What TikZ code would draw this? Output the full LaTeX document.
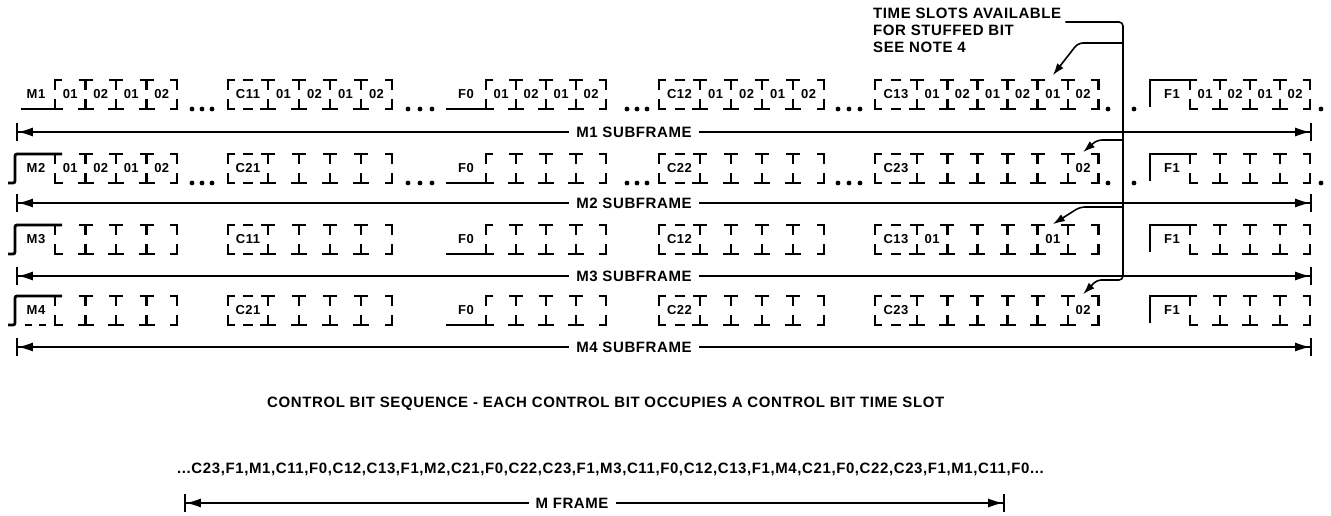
\documentclass[tikz,border=0pt]{standalone}
\usepackage{fontspec}
\setmainfont{Liberation Sans}
\newfontfamily\annfont[LetterSpace=4]{Liberation Sans}
\usetikzlibrary{arrows.meta}
\tikzset{
  sl/.style={line width=2.8pt},
  ann/.style={font=\annfont\fontsize{15}{17}\selectfont\bfseries, inner sep=0pt},
  lbl/.style={font=\annfont\fontsize{13}{15}\selectfont\bfseries, inner sep=0pt},
  span/.style={line width=1.5pt, {Bar[width=18pt,line width=1.8pt]Latex[length=15pt,width=9pt]}-{Latex[length=15pt,width=9pt]Bar[width=18pt,line width=1.8pt]}},
  dotn/.style={circle, fill=black, inner sep=0pt, minimum size=4.8pt},
  ptr/.style={line width=1.6pt, -{Latex[length=12pt,width=8pt]}},
  sublbl/.style={ann, fill=white, inner xsep=7pt, inner ysep=3pt},
}
% slot boundary (T on top, inverted T at bottom)
\newcommand\Tb[1]{\draw[sl] (#1-7,\rowT) -- (#1+7,\rowT) (#1,\rowT) -- (#1,\rowT+10) (#1-8,\rowB) -- (#1+8,\rowB) (#1,\rowB) -- (#1,\rowB-10);}
\newcommand\Lb[1]{\draw[sl] (#1+7,\rowT) -- (#1,\rowT) -- (#1,\rowT+10) (#1+7,\rowB) -- (#1,\rowB) -- (#1,\rowB-10);}
\newcommand\Rb[1]{\draw[sl] (#1-7,\rowT) -- (#1,\rowT) -- (#1,\rowT+10) (#1-7,\rowB) -- (#1,\rowB) -- (#1,\rowB-10);}
\newcommand\Cd[2]{\draw[sl] ({(#1+#2)/2-5},\rowT) -- ({(#1+#2)/2+5},\rowT) ({(#1+#2)/2-5},\rowB) -- ({(#1+#2)/2+5},\rowB);}
\newcommand\Cgroup[5]{\Lb{#1}\Cd{#1}{#2}\foreach \k in {0,...,#4}{\Tb{#2+\k*#3}}\Rb{#5}}
% low pulse: underline then first slot boundary
\newcommand\Low[2]{\draw[sl] (#1,\rowB) -- (#2+8,\rowB) (#2,\rowB) -- (#2,\rowB-10) (#2+7,\rowT) -- (#2,\rowT) -- (#2,\rowT+10);}
% high pulse (M) with rising edge
\newcommand\HighM[1]{\draw[sl, rounded corners=2pt] (8,\rowB) -- (15,\rowB) -- (15,\rowT) -- (#1+7,\rowT);
  \draw[sl] (#1,\rowT) -- (#1,\rowT+10) (#1+8,\rowB) -- (#1,\rowB) -- (#1,\rowB-10);}
% high pulse (F1)
\newcommand\HighF[2]{\draw[sl] (#1,\rowB-2) -- (#1,\rowT) -- (#2+7,\rowT) (#2,\rowT) -- (#2,\rowT+10) (#2+8,\rowB) -- (#2,\rowB) -- (#2,\rowB-10);}
\newcommand\Skel{%
  \foreach \k in {1,2,3}{\Tb{55+\k*30.5}}
  \Rb{177}
  \Cgroup{228}{268}{31}{3}{392}
  \Low{446}{486}
  \foreach \k in {1,2,3}{\Tb{486+\k*30}}
  \Rb{606}
  \Cgroup{659}{700}{31}{3}{824}
  \Cgroup{875}{917}{30.2}{5}{1098.2}
  \HighF{1150}{1190}
  \foreach \k in {1,2,3}{\Tb{1190+\k*30}}
  \Rb{1310}}
\newcommand\Labs[4]{\foreach \t [count=\i] in {#4}{\node[lbl] (#1\i) at ({#2+(\i-0.5)*#3},\rowT+14) {\t};}}
\newcommand\Dots[2]{\foreach \x [count=\i] in {#2}{\node[dotn] (#1\i) at (\x,\rowB) {};}}
\newcommand\CtlLabels[6]{%
  \node[lbl] (#1m) at (36,\rowT+14) {#2};
  \node[lbl] (#1c) at (248,\rowT+14) {#3};
  \node[lbl] (#1f) at (466,\rowT+14) {F0};
  \node[lbl] (#1d) at (679.5,\rowT+14) {#4};
  \node[lbl] (#1ec) at (896,\rowT+14) {#5};
  \node[lbl] (#1k) at (1172,\rowT+14) {#6};}
\newcommand\AllDots[1]{%
  \Dots{#1da}{192,202,212}\Dots{#1db}{408,420,432}\Dots{#1dc}{627,637,647}
  \Dots{#1dd}{838,849,860}\Dots{#1de}{1108,1134}\Dots{#1df}{1321}}

\begin{document}
\begin{tikzpicture}[x=1pt,y=-1pt]
\fill[white] (0,0) rectangle (1331,516);
\useasboundingbox (0,0) rectangle (1331,516);

% ---------- note ----------
\node[ann, anchor=base west] (n1) at (873,18.5) {TIME SLOTS AVAILABLE};
\node[ann, anchor=base west] (n2) at (873,35.5) {FOR STUFFED BIT};
\node[ann, anchor=base west] (n3) at (873,52.5) {SEE NOTE 4};

% ---------- row 1 ----------
\def\rowT{80}\def\rowB{109}
\Low{21}{55}
\Skel
\AllDots{r1}
\CtlLabels{r1}{M1}{C11}{C12}{C13}{F1}
\Labs{r1a}{55}{30.5}{01,02,01,02}
\Labs{r1b}{268}{31}{01,02,01,02}
\Labs{r1g}{486}{30}{01,02,01,02}
\Labs{r1h}{700}{31}{01,02,01,02}
\Labs{r1e}{917}{30.2}{01,02,01,02,01,02}
\Labs{r1l}{1190}{30}{01,02,01,02}

% ---------- row 2 ----------
\def\rowT{154}\def\rowB{183}
\HighM{55}
\Skel
\AllDots{r2}
\CtlLabels{r2}{M2}{C21}{C22}{C23}{F1}
\Labs{r2a}{55}{30.5}{01,02,01,02}
\node[lbl] (r2e6) at (1083.1,\rowT+14) {02};

% ---------- row 3 ----------
\def\rowT{225}\def\rowB{254}
\HighM{55}
\Skel
\CtlLabels{r3}{M3}{C11}{C12}{C13}{F1}
\node[lbl] (r3e1) at (932.1,\rowT+14) {01};
\node[lbl] (r3e5) at (1052.9,\rowT+14) {01};

% ---------- row 4 ----------
\def\rowT{296}\def\rowB{325}
\HighM{55}
\draw[sl] (25,\rowB) -- (32,\rowB) (39,\rowB) -- (46,\rowB);
\Skel
\CtlLabels{r4}{M4}{C21}{C22}{C23}{F1}
\node[lbl] (r4e6) at (1083.1,\rowT+14) {02};

% ---------- subframe spans ----------
\foreach \y/\n in {132/1,203/2,276/3,347/4}{
  \coordinate (s\n a) at (16,\y);
  \coordinate (s\n b) at (1312,\y);
  \draw[span] (s\n a) -- (s\n b);
  \node[sublbl] (s\n t) at (634,\y) {M\n\ SUBFRAME};
}

% ---------- stuffed-bit pointers ----------
\coordinate (v0) at (1123,22);
\coordinate (v4) at (1123,280);
\coordinate (h4) at (1097,280);
\draw[ptr, rounded corners=4pt] ([xshift=4pt,yshift=-3.5pt]n1.base east) -- (v0) -- (v4) -- (h4) -- ([yshift=11pt]r4e6.north);
\coordinate (v1) at (1123,43);  \coordinate (h1) at (1078,43);
\coordinate (v2) at (1123,140); \coordinate (h2) at (1097,140);
\coordinate (v3) at (1123,207); \coordinate (h3) at (1080,207);
\draw[ptr, rounded corners=5pt] (v1) -- (h1) -- ([yshift=14pt]r1e5.north);
\draw[ptr, rounded corners=5pt] (v2) -- (h2) -- ([yshift=11pt]r2e6.north);
\draw[ptr, rounded corners=5pt] (v3) -- (h3) -- ([yshift=10pt]r3e5.north);

% ---------- control bit sequence ----------
\node[ann, anchor=base west] (cbs) at (267,407.5) {CONTROL BIT SEQUENCE - EACH CONTROL BIT OCCUPIES A CONTROL BIT TIME SLOT};
\node[ann, anchor=base west] (seq) at (177,473.5) {...C23,F1,M1,C11,F0,C12,C13,F1,M2,C21,F0,C22,C23,F1,M3,C11,F0,C12,C13,F1,M4,C21,F0,C22,C23,F1,M1,C11,F0...};
\coordinate (mfa) at (184,503);
\coordinate (mfb) at (1005,503);
\draw[span] (mfa) -- (mfb);
\node[sublbl] (mft) at (572,503) {M FRAME};
\end{tikzpicture}
\end{document}
